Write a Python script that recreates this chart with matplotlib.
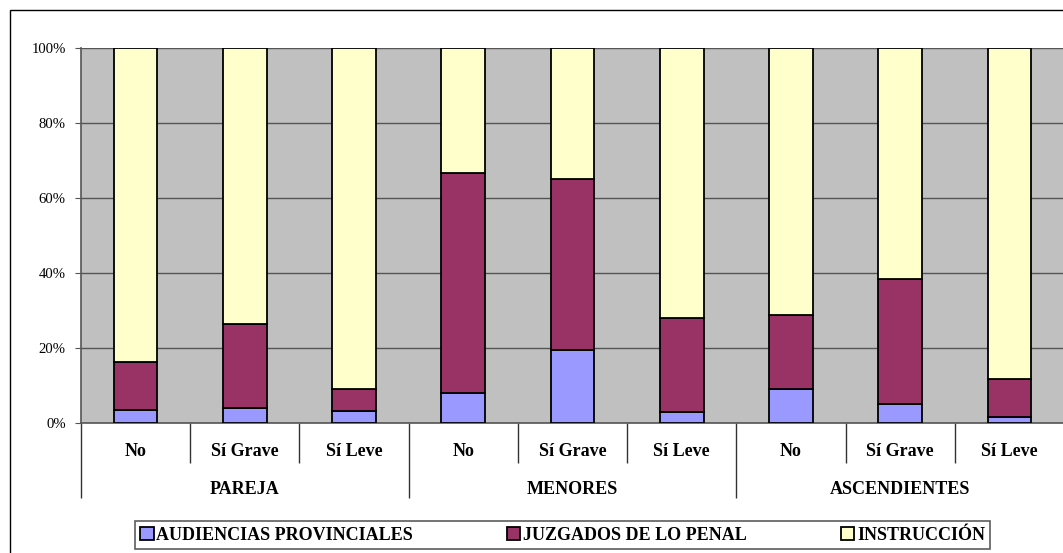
import numpy as np
import matplotlib.pyplot as plt
from matplotlib.patches import Rectangle

plt.rcParams['font.family'] = ['Liberation Serif', 'DejaVu Serif']

groups = ['PAREJA', 'MENORES', 'ASCENDIENTES']
subcats = ['No', 'Sí Grave', 'Sí Leve']
series_names = ['AUDIENCIAS PROVINCIALES', 'JUZGADOS DE LO PENAL', 'INSTRUCCIÓN']

# percentages
audiencias = [3.4, 3.8, 3.0, 7.8, 19.4, 2.7, 8.9, 4.9, 1.6]
juzgados = [12.7, 22.5, 5.9, 58.7, 45.7, 25.1, 19.8, 33.3, 10.1]
instruccion = [83.9, 73.7, 91.1, 33.5, 34.9, 72.2, 71.3, 61.8, 88.3]

colors = ['#9999FF', '#993366', '#FFFFCC']

fig = plt.figure(figsize=(10.63, 5.53), dpi=100)
ax = fig.add_axes([81 / 1063, 1 - 422.5 / 553, 983 / 1063, 374.5 / 553])

# chart area border (left and top edges visible)
fig.patches.append(Rectangle((10 / 1063, -0.2), 1.2, 1.2 - 10 / 553,
                             transform=fig.transFigure, fill=False,
                             edgecolor='black', linewidth=1.0))

x = np.arange(len(audiencias))
bottom = np.zeros(len(x))
for vals, name, c in zip([audiencias, juzgados, instruccion], series_names, colors):
    ax.bar(x, vals, width=0.4, bottom=bottom, color=c, edgecolor='black',
           linewidth=1.3, label=name, zorder=3)
    bottom += np.array(vals)

ax.set_facecolor('#C0C0C0')
ax.set_xlim(-0.5, len(x) - 0.5)
ax.set_ylim(0, 100)
ax.set_yticks(np.arange(0, 101, 20))
ax.set_yticklabels([f'{v}%' for v in range(0, 101, 20)], fontsize=10.6)
ax.yaxis.grid(True, color='#555555', linewidth=1.0, zorder=1)
ax.tick_params(axis='y', length=4, color='#555555', pad=7)
for s in ['top', 'right']:
    ax.spines[s].set_visible(False)
ax.spines['left'].set_color('#555555')
ax.spines['bottom'].set_color('#555555')
ax.spines['left'].set_linewidth(1.2)
ax.spines['bottom'].set_linewidth(1.2)

# category separators (short) and group separators (long)
ax.set_xticks(np.arange(-0.5, len(x), 3))
ax.set_xticks(np.arange(-0.5, len(x), 1), minor=True)
ax.tick_params(axis='x', which='major', length=54, color='#333333', width=1.0,
               labelbottom=False)
ax.tick_params(axis='x', which='minor', length=28.5, color='#333333', width=1.0)

trans = ax.get_xaxis_transform()
for i in x:
    ax.text(i, -0.077, subcats[i % 3], transform=trans, ha='center', va='center',
            fontsize=13, fontweight='bold')
for g, name in enumerate(groups):
    ax.text(3 * g + 1, -0.178, name, transform=trans, ha='center', va='center',
            fontsize=13, fontweight='bold')

leg = fig.legend(loc='center', bbox_to_anchor=(562.5 / 1063, 1 - 535 / 553),
                 ncol=3, frameon=True, fancybox=False, edgecolor='#333333',
                 prop={'weight': 'bold', 'size': 13}, handlelength=0.75,
                 handleheight=0.75, handletextpad=0.15, columnspacing=5.2,
                 borderpad=0.3)
leg.get_frame().set_linewidth(1.2)

fig.savefig('out.png', dpi=100)
